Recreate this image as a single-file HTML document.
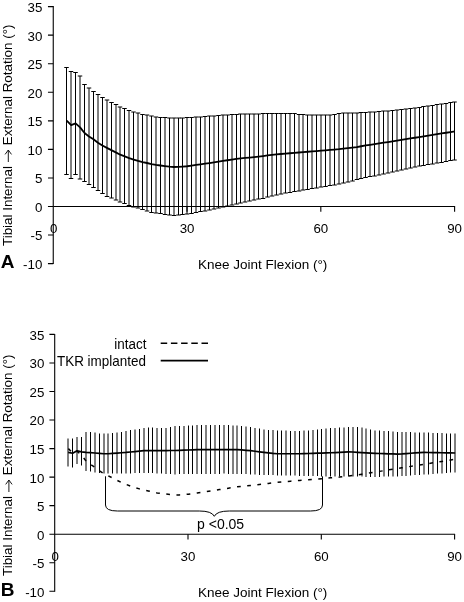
<!DOCTYPE html>
<html><head><meta charset="utf-8"><title>Figure</title>
<style>
html,body{margin:0;padding:0;background:#fff;}
body{width:464px;height:602px;overflow:hidden;position:relative;font-family:"Liberation Sans",sans-serif;}
svg{position:absolute;left:0;top:0;will-change:transform;}
text{font-family:"Liberation Sans",sans-serif;fill:#000;}
</style></head><body>
<svg width="464" height="602" viewBox="0 0 464 602">

<g id="chartA">
<path d="M53.25 6.11V264.11" stroke="#000" stroke-width="1.1" fill="none"/>
<path d="M53.25 206.5H455.1" stroke="#000" stroke-width="1.1" fill="none"/>
<path d="M47.95 263.61H53.25M47.95 235.06H53.25M47.95 206.5H53.25M47.95 177.94H53.25M47.95 149.39H53.25M47.95 120.83H53.25M47.95 92.28H53.25M47.95 63.72H53.25M47.95 35.17H53.25M47.95 6.61H53.25M187.03 206.5V211.8M320.82 206.5V211.8M454.6 206.5V211.8" stroke="#000" stroke-width="1.1" fill="none"/>
<text x="42.3" y="269.01" font-size="13.3" text-anchor="end">-10</text>
<text x="42.3" y="240.46" font-size="13.3" text-anchor="end">-5</text>
<text x="42.3" y="211.9" font-size="13.3" text-anchor="end">0</text>
<text x="42.3" y="183.34" font-size="13.3" text-anchor="end">5</text>
<text x="42.3" y="154.79" font-size="13.3" text-anchor="end">10</text>
<text x="42.3" y="126.23" font-size="13.3" text-anchor="end">15</text>
<text x="42.3" y="97.68" font-size="13.3" text-anchor="end">20</text>
<text x="42.3" y="69.12" font-size="13.3" text-anchor="end">25</text>
<text x="42.3" y="40.57" font-size="13.3" text-anchor="end">30</text>
<text x="42.3" y="12.01" font-size="13.3" text-anchor="end">35</text>
<text x="53.65" y="233.3" font-size="13.3" text-anchor="middle">0</text>
<text x="187.03" y="233.3" font-size="13.3" text-anchor="middle">30</text>
<text x="320.82" y="233.3" font-size="13.3" text-anchor="middle">60</text>
<text x="454.6" y="233.3" font-size="13.3" text-anchor="middle">90</text>
<text x="262.7" y="269.3" font-size="13.5" text-anchor="middle">Knee Joint Flexion (°)</text>
<path d="M66.5 67.5V174.5M71 71.5V178.5M75.5 72.5V174.5M80 76V179M84.5 84.5V181.5M89 88V184.5M93.5 91.5V187.5M98 94.5V190.5M102.5 97.5V193.5M107 100V196.5M111.5 102.5V198M116 104.5V200M120 107V202M124.5 108.5V203.5M129 110.5V205.5M133.5 112V207M138 113V208M142.5 114.5V209.5M147 115V211M151.5 116V212.5M156 117V213M160.5 117.5V213.5M165 117.5V214.5M169.5 118V215M174 118V215.5M178.5 118V215M182.5 118V214.5M187 117.5V214M191.5 117.5V213.5M196 117V212.5M200.5 117V211.5M205 116.5V211M209.5 116V210M214 116V209M218.5 115.5V208M223 115V207M227.5 115V206M232 114.5V205M236.5 114.5V204M240.5 114V203M245 114V202M249.5 114V201M254 114V200M258.5 114V199M263 113.5V198.5M267.5 113.5V197M272 113.5V196M276.5 113.5V195M281 113.5V194M285.5 113.5V193M290 113.5V192.5M294.5 113.5V191.5M299 114.5V191M303 114.5V190M307.5 115V189.5M312 115V188.5M316.5 115V188M321 115V187M325.5 115V186.5M330 115V185.5M334.5 114.5V185M339 113.5V184M343.5 113V183M348 113V182M352.5 113V181M357 113V179.5M361 112.5V178.5M365.5 112.5V177.5M370 112V176.5M374.5 112V176M379 111.5V175M383.5 111V174M388 111V173M392.5 110.5V172M397 110V171M401.5 109.5V170M406 109V169M410.5 108.5V168M415 108V167M419.5 107.5V166M423.5 106.5V165.5M428 106V164.5M432.5 105.5V164M437 104.5V163M441.5 104V162.5M446 103.5V161.5M450.5 102.5V160.5M454.5 102V160" stroke="#000" stroke-width="1" fill="none"/>
<path d="M64.25 67.5h4.5M64.25 174.5h4.5M68.75 71.5h4.5M68.75 178.5h4.5M73.25 72.5h4.5M73.25 174.5h4.5M77.75 76h4.5M77.75 179h4.5M82.25 84.5h4.5M82.25 181.5h4.5M86.75 88h4.5M86.75 184.5h4.5M91.25 91.5h4.5M91.25 187.5h4.5M95.75 94.5h4.5M95.75 190.5h4.5M100.25 97.5h4.5M100.25 193.5h4.5M104.75 100h4.5M104.75 196.5h4.5M109.25 102.5h4.5M109.25 198h4.5M113.75 104.5h4.5M113.75 200h4.5M117.75 107h4.5M117.75 202h4.5M122.25 108.5h4.5M122.25 203.5h4.5M126.75 110.5h4.5M126.75 205.5h4.5M131.25 112h4.5M131.25 207h4.5M135.75 113h4.5M135.75 208h4.5M140.25 114.5h4.5M140.25 209.5h4.5M144.75 115h4.5M144.75 211h4.5M149.25 116h4.5M149.25 212.5h4.5M153.75 117h4.5M153.75 213h4.5M158.25 117.5h4.5M158.25 213.5h4.5M162.75 117.5h4.5M162.75 214.5h4.5M167.25 118h4.5M167.25 215h4.5M171.75 118h4.5M171.75 215.5h4.5M176.25 118h4.5M176.25 215h4.5M180.25 118h4.5M180.25 214.5h4.5M184.75 117.5h4.5M184.75 214h4.5M189.25 117.5h4.5M189.25 213.5h4.5M193.75 117h4.5M193.75 212.5h4.5M198.25 117h4.5M198.25 211.5h4.5M202.75 116.5h4.5M202.75 211h4.5M207.25 116h4.5M207.25 210h4.5M211.75 116h4.5M211.75 209h4.5M216.25 115.5h4.5M216.25 208h4.5M220.75 115h4.5M220.75 207h4.5M225.25 115h4.5M225.25 206h4.5M229.75 114.5h4.5M229.75 205h4.5M234.25 114.5h4.5M234.25 204h4.5M238.25 114h4.5M238.25 203h4.5M242.75 114h4.5M242.75 202h4.5M247.25 114h4.5M247.25 201h4.5M251.75 114h4.5M251.75 200h4.5M256.25 114h4.5M256.25 199h4.5M260.75 113.5h4.5M260.75 198.5h4.5M265.25 113.5h4.5M265.25 197h4.5M269.75 113.5h4.5M269.75 196h4.5M274.25 113.5h4.5M274.25 195h4.5M278.75 113.5h4.5M278.75 194h4.5M283.25 113.5h4.5M283.25 193h4.5M287.75 113.5h4.5M287.75 192.5h4.5M292.25 113.5h4.5M292.25 191.5h4.5M296.75 114.5h4.5M296.75 191h4.5M300.75 114.5h4.5M300.75 190h4.5M305.25 115h4.5M305.25 189.5h4.5M309.75 115h4.5M309.75 188.5h4.5M314.25 115h4.5M314.25 188h4.5M318.75 115h4.5M318.75 187h4.5M323.25 115h4.5M323.25 186.5h4.5M327.75 115h4.5M327.75 185.5h4.5M332.25 114.5h4.5M332.25 185h4.5M336.75 113.5h4.5M336.75 184h4.5M341.25 113h4.5M341.25 183h4.5M345.75 113h4.5M345.75 182h4.5M350.25 113h4.5M350.25 181h4.5M354.75 113h4.5M354.75 179.5h4.5M358.75 112.5h4.5M358.75 178.5h4.5M363.25 112.5h4.5M363.25 177.5h4.5M367.75 112h4.5M367.75 176.5h4.5M372.25 112h4.5M372.25 176h4.5M376.75 111.5h4.5M376.75 175h4.5M381.25 111h4.5M381.25 174h4.5M385.75 111h4.5M385.75 173h4.5M390.25 110.5h4.5M390.25 172h4.5M394.75 110h4.5M394.75 171h4.5M399.25 109.5h4.5M399.25 170h4.5M403.75 109h4.5M403.75 169h4.5M408.25 108.5h4.5M408.25 168h4.5M412.75 108h4.5M412.75 167h4.5M417.25 107.5h4.5M417.25 166h4.5M421.25 106.5h4.5M421.25 165.5h4.5M425.75 106h4.5M425.75 164.5h4.5M430.25 105.5h4.5M430.25 164h4.5M434.75 104.5h4.5M434.75 163h4.5M439.25 104h4.5M439.25 162.5h4.5M443.75 103.5h4.5M443.75 161.5h4.5M448.25 102.5h4.5M448.25 160.5h4.5M452.25 102h4.5M452.25 160h4.5" stroke="#000" stroke-width="1" fill="none"/>
<polyline points="66.69,120.52 71.15,125.08 75.61,123.37 80.08,127.35 84.54,133.05 89,136.46 93.47,139.31 97.93,142.73 102.39,145.57 106.86,147.85 111.32,150.13 115.78,152.41 120.25,154.68 124.71,156.39 129.17,158.1 133.63,159.52 138.1,160.95 142.56,162.09 147.02,163 151.49,164.02 155.95,164.93 160.41,165.5 164.88,166.07 169.34,166.64 173.8,166.98 178.26,166.93 182.73,166.59 187.19,166.24 191.65,165.6 196.12,164.96 200.58,164.32 205.04,163.68 209.5,163.04 213.97,162.37 218.43,161.66 222.89,160.95 227.36,160.24 231.82,159.52 236.28,158.81 240.75,158.35 245.21,157.94 249.67,157.53 254.13,157.03 258.6,156.53 263.06,156.02 267.52,155.47 271.99,154.87 276.45,154.36 280.91,153.99 285.38,153.61 289.84,153.23 294.3,152.86 298.77,152.48 303.23,152.12 307.69,151.77 312.15,151.41 316.62,151.05 321.08,150.7 325.54,150.31 330.01,149.93 334.47,149.54 338.93,149.11 343.39,148.57 347.86,148.02 352.32,147.53 356.78,147.05 361.25,146.24 365.71,145.45 370.17,144.81 374.64,144.15 379.1,143.44 383.56,142.73 388.03,142.02 392.49,141.3 396.95,140.59 401.41,139.88 405.88,139.17 410.34,138.46 414.8,137.74 419.27,137.03 423.73,136.32 428.19,135.61 432.66,134.9 437.12,134.19 441.58,133.47 446.04,132.76 450.51,132.05 454.97,131.34" stroke="#000" stroke-width="1.8" fill="none" stroke-linejoin="round"/>
<text transform="translate(11.6 246) rotate(-90)" font-size="13.4">Tibial Internal</text>
<text transform="translate(11.6 145.2) rotate(-90)" font-size="13.4">External Rotation (°)</text>
<path d="M8.3 162V150.2M5.1000000000000005 154.4L8.3 150L11.5 154.4" stroke="#000" stroke-width="0.9" fill="none"/>
<text x="0.8" y="267.7" font-size="19" font-weight="bold">A</text>
</g>
<g id="chartB">
<path d="M54.7 333.92V591.78" stroke="#000" stroke-width="1.1" fill="none"/>
<path d="M54.7 534.2H455.1" stroke="#000" stroke-width="1.1" fill="none"/>
<path d="M49.4 591.28H54.7M49.4 562.74H54.7M49.4 534.2H54.7M49.4 505.66H54.7M49.4 477.12H54.7M49.4 448.58H54.7M49.4 420.04H54.7M49.4 391.5H54.7M49.4 362.96H54.7M49.4 334.42H54.7M188 534.2V539.5M321.3 534.2V539.5M454.6 534.2V539.5" stroke="#000" stroke-width="1.1" fill="none"/>
<text x="44.4" y="596.68" font-size="13.3" text-anchor="end">-10</text>
<text x="44.4" y="568.14" font-size="13.3" text-anchor="end">-5</text>
<text x="44.4" y="539.6" font-size="13.3" text-anchor="end">0</text>
<text x="44.4" y="511.06" font-size="13.3" text-anchor="end">5</text>
<text x="44.4" y="482.52" font-size="13.3" text-anchor="end">10</text>
<text x="44.4" y="453.98" font-size="13.3" text-anchor="end">15</text>
<text x="44.4" y="425.44" font-size="13.3" text-anchor="end">20</text>
<text x="44.4" y="396.9" font-size="13.3" text-anchor="end">25</text>
<text x="44.4" y="368.36" font-size="13.3" text-anchor="end">30</text>
<text x="44.4" y="339.82" font-size="13.3" text-anchor="end">35</text>
<text x="55.1" y="560.8" font-size="13.3" text-anchor="middle">0</text>
<text x="188" y="560.8" font-size="13.3" text-anchor="middle">30</text>
<text x="321.3" y="560.8" font-size="13.3" text-anchor="middle">60</text>
<text x="454.6" y="560.8" font-size="13.3" text-anchor="middle">90</text>
<text x="262.7" y="597" font-size="13.5" text-anchor="middle">Knee Joint Flexion (°)</text>
<path d="M68 438.5V466.5M72.5 438.5V467.5M77 437V464M81.5 437V465.5M86 432V471M90.5 432V471.5M95 432.5V472.5M99.5 433.5V473M104 433.5V473.5M108 433.5V473.5M112.5 433V473.5M117 432.5V473.5M121.5 432V473.5M126 431V473.5M130.5 430V473.5M135 429.5V473M139.5 429V473M144 428V473M148.5 427.5V473M152.5 427.5V473M157 428V473.5M161.5 428V473.5M166 428V474M170.5 427V474M175 426V474.5M179.5 426V474M184 426V474M188.5 425.5V474M192.5 425.5V474M197 425V474M201.5 425V474M206 425V474M210.5 425V474M215 425V474M219.5 425V474M224 425V473.5M228.5 425V474M233 425.5V474M237 425.5V474M241.5 426V474M246 426.5V474M250.5 427V474.5M255 428V474.5M259.5 428.5V475M264 429.5V475M268.5 430V475M273 430V475M277.5 430.5V475.5M281.5 430.5V475.5M286 430.5V475.5M290.5 431V475.5M295 431V475.5M299.5 431V476M304 430.5V476M308.5 430.5V476M313 430V476M317.5 429.5V476M321.5 429V476.5M326 428.5V476.5M330.5 428V476.5M335 428V476.5M339.5 427.5V476.5M344 427.5V476.5M348.5 427V476.5M353 427V476.5M357.5 427V476.5M362 427.5V476.5M366 428.5V477M370.5 429.5V477M375 430.5V477M379.5 430.5V477M384 431V476.5M388.5 431V476.5M393 431.5V476.5M397.5 432V476.5M402 432V476M406 432V476M410.5 432V475.5M415 432.5V475M419.5 432.5V475M424 432.5V474.5M428.5 432.5V474.5M433 433V474M437.5 433V473.5M442 433V473.5M446.5 433.5V473M450.5 433.5V472.5M455 433.5V472.5" stroke="#000" stroke-width="1" fill="none"/>
<polyline points="68.19,448.43 72.64,452.99 77.09,451.28 81.54,455.27 85.99,460.97 90.43,464.39 94.88,467.24 99.33,470.66 103.78,473.51 108.23,475.79 112.67,478.07 117.12,480.35 121.57,482.63 126.02,484.34 130.47,486.05 134.91,487.48 139.36,488.9 143.81,490.04 148.26,490.95 152.71,491.98 157.15,492.89 161.6,493.46 166.05,494.03 170.5,494.6 174.95,494.94 179.39,494.88 183.84,494.54 188.29,494.2 192.74,493.56 197.19,492.92 201.63,492.28 206.08,491.64 210.53,490.99 214.98,490.32 219.43,489.61 223.87,488.9 228.32,488.19 232.77,487.48 237.22,486.76 241.67,486.29 246.11,485.89 250.56,485.48 255.01,484.98 259.46,484.47 263.91,483.97 268.35,483.41 272.8,482.82 277.25,482.31 281.7,481.93 286.15,481.56 290.59,481.18 295.04,480.8 299.49,480.43 303.94,480.06 308.39,479.71 312.83,479.35 317.28,479 321.73,478.64 326.18,478.25 330.63,477.87 335.07,477.48 339.52,477.05 343.97,476.51 348.42,475.96 352.87,475.47 357.31,474.98 361.76,474.18 366.21,473.38 370.66,472.75 375.11,472.08 379.55,471.37 384,470.66 388.45,469.95 392.9,469.24 397.35,468.52 401.79,467.81 406.24,467.1 410.69,466.38 415.14,465.67 419.59,464.96 424.03,464.25 428.48,463.53 432.93,462.82 437.38,462.11 441.83,461.4 446.27,460.69 450.72,459.97 455.17,459.26" stroke="#000" stroke-width="1.5" fill="none" stroke-dasharray="3.7 6.5" stroke-dashoffset="-0.25"/>
<polyline points="68.19,452.42 72.64,453.27 77.09,450.71 81.54,451.85 85.99,452.42 90.43,452.7 94.88,452.99 99.33,453.36 103.78,453.73 108.23,453.73 112.67,453.4 117.12,453.08 121.57,452.75 126.02,452.42 130.47,451.99 134.91,451.56 139.36,451.14 143.81,450.71 148.26,450.71 152.71,450.69 157.15,450.65 161.6,450.61 166.05,450.56 170.5,450.52 174.95,450.48 179.39,450.32 183.84,450.16 188.29,450 192.74,449.84 197.19,449.68 201.63,449.57 206.08,449.57 210.53,449.57 214.98,449.57 219.43,449.57 223.87,449.57 228.32,449.57 232.77,449.57 237.22,449.57 241.67,449.95 246.11,450.33 250.56,450.71 255.01,451.28 259.46,451.85 263.91,452.42 268.35,452.92 272.8,453.43 277.25,453.73 281.7,453.73 286.15,453.73 290.59,453.73 295.04,453.73 299.49,453.73 303.94,453.6 308.39,453.48 312.83,453.35 317.28,453.22 321.73,453.09 326.18,452.95 330.63,452.75 335.07,452.54 339.52,452.34 343.97,452.13 348.42,451.93 352.87,452.01 357.31,452.29 361.76,452.56 366.21,452.84 370.66,453.11 375.11,453.34 379.55,453.49 384,453.64 388.45,453.79 392.9,453.95 397.35,454.1 401.79,453.89 406.24,453.58 410.69,453.27 415.14,452.97 419.59,452.66 424.03,452.44 428.48,452.51 432.93,452.59 437.38,452.67 441.83,452.75 446.27,452.83 450.72,452.91 455.17,452.99" stroke="#000" stroke-width="1.7" fill="none" stroke-linejoin="round"/>
<path d="M105.5 476.3V505Q105.5 511 117.5 511H199.3Q211.8 511 214.3 516.3Q216.8 511 229.3 511H310.5Q322.5 511 322.5 505V476.3" stroke="#000" stroke-width="1" fill="none"/>
<text x="220.6" y="528.9" font-size="14" text-anchor="middle">p &lt;0.05</text>
<text transform="translate(146.4 348.7) scale(0.96 1)" font-size="14" text-anchor="end">intact</text>
<text transform="translate(145.9 366) scale(0.962 1)" font-size="14" text-anchor="end">TKR implanted</text>
<path d="M160.7 343.3H208" stroke="#000" stroke-width="1.6" stroke-dasharray="6.5 3.7" fill="none"/>
<path d="M160.7 360.7H208" stroke="#000" stroke-width="1.7" fill="none"/>
<text transform="translate(12.2 576) rotate(-90)" font-size="13.4">Tibial Internal</text>
<text transform="translate(12.2 475.2) rotate(-90)" font-size="13.4">External Rotation (°)</text>
<path d="M8.9 492V480.2M5.7 484.4L8.9 480L12.100000000000001 484.4" stroke="#000" stroke-width="0.9" fill="none"/>
<text x="0.8" y="595.5" font-size="19" font-weight="bold">B</text>
</g>
</svg></body></html>
